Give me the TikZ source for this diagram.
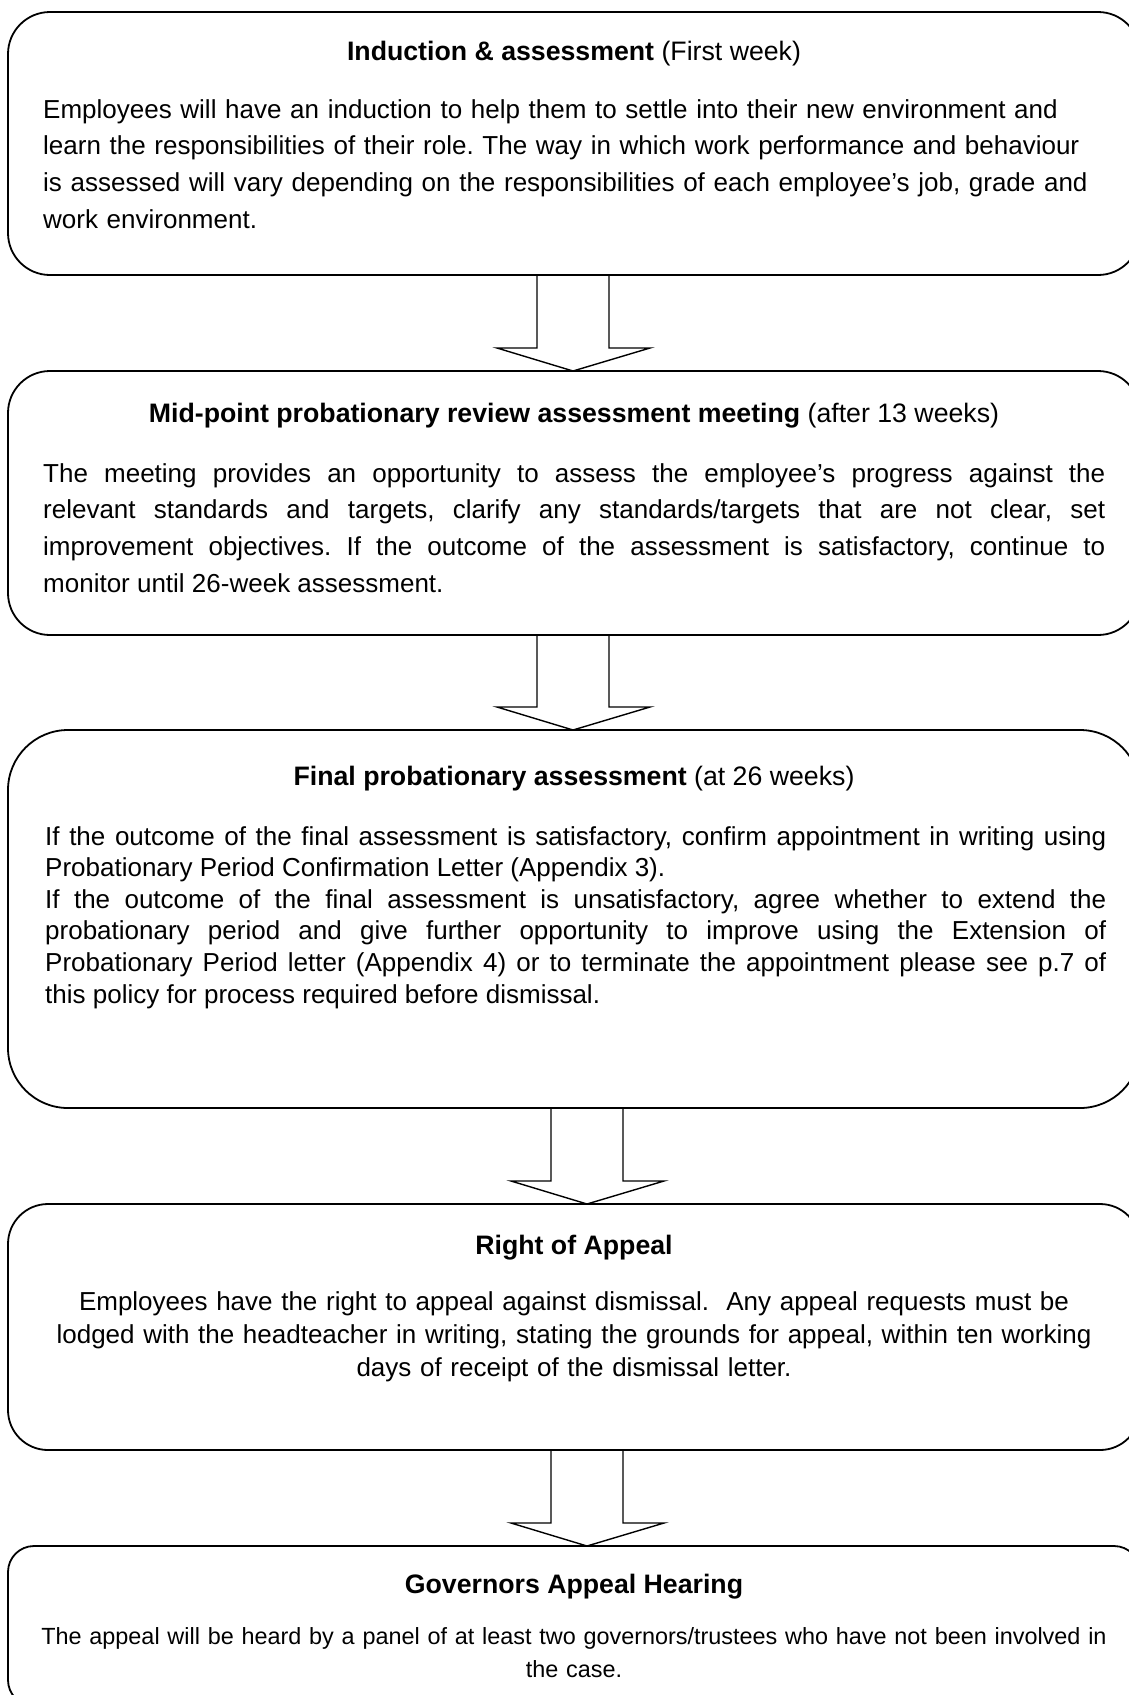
\documentclass[tikz,border=0pt]{standalone}
\usepackage{fontspec}
\setmainfont{Liberation Sans}
\usepackage{tikz}
\usetikzlibrary{positioning, calc}
\frenchspacing
\tikzstyle{stage} = [rectangle, draw=black, line width=1.8pt, minimum width=1132pt, inner sep=0pt, outer sep=0pt]
\tikzstyle{title} = [inner sep=0pt, anchor=base, font=\fontsize{26.7}{36}\selectfont]
\tikzstyle{body} = [inner sep=0pt, anchor=base west, text width=1062pt, align=left, font=\fontsize{26}{36.7}\selectfont]
\tikzstyle{hollow} = [draw=black, line width=1.4pt, line join=miter]
\newcommand{\fullline}[1]{\makebox[\hsize][s]{\spaceskip=0pt \xspaceskip=0pt #1}}

\begin{document}
\begin{tikzpicture}[x=1pt, y=-1pt]
\useasboundingbox (0,0) rectangle (1129,1695);
\clip (0,0) rectangle (1129,1695);

% stages
\node[stage, rounded corners=42pt, minimum height=263pt, anchor=north west] (b1) at (8,12) {};
\node[stage, rounded corners=42pt, minimum height=264pt, below=96pt of b1] (b2) {};
\node[stage, rounded corners=60pt, minimum height=378pt, below=95pt of b2] (b3) {};
\node[stage, rounded corners=40pt, minimum height=246pt, below=96pt of b3] (b4) {};
\node[stage, rounded corners=26pt, minimum height=160pt, below=96pt of b4] (b5) {};

% headings
\node[title] (t1) at ([yshift=-48pt]b1.north) {\textbf{Induction \& assessment} (First week)};
\node[title] (t2) at ([yshift=-51pt]b2.north) {\textbf{Mid-point probationary review assessment meeting} (after 13 weeks)};
\node[title] (t3) at ([yshift=-55pt]b3.north) {\textbf{Final probationary assessment} (at 26 weeks)};
\node[title] (t4) at ([yshift=-50pt]b4.north) {\textbf{Right of Appeal}};
\node[title] (t5) at ([yshift=-47pt]b5.north) {\textbf{Governors Appeal Hearing}};

% texts
\node[body, text width=1080pt] (d1) at ([xshift=35pt, yshift=-106pt]b1.north west) {Employees will have an induction to help them to settle into their new environment and\\
learn the responsibilities of their role. The way in which work performance and behaviour\\
is assessed will vary depending on the responsibilities of each employee’s job, grade and\\
work environment.};
\node[body, align=justify] (d2) at ([xshift=35pt, yshift=-111pt]b2.north west) {\fullline{The meeting provides an opportunity to assess the employee’s progress against the}\\
\fullline{relevant standards and targets, clarify any standards/targets that are not clear, set}\\
\fullline{improvement objectives. If the outcome of the assessment is satisfactory, continue to}\\
monitor until 26-week assessment.};
\node[body, align=justify, text width=1061pt, font=\fontsize{26}{31.6}\selectfont] (d3) at ([xshift=37pt, yshift=-115pt]b3.north west) {\fullline{If the outcome of the final assessment is satisfactory, confirm appointment in writing using}\\
Probationary Period Confirmation Letter (Appendix 3).\\
\fullline{If the outcome of the final assessment is unsatisfactory, agree whether to extend the}\\
\fullline{probationary period and give further opportunity to improve using the Extension of}\\
\fullline{Probationary Period letter (Appendix 4) or to terminate the appointment please see p.7 of}\\
this policy for process required before dismissal.};
\node[body, anchor=base, text width=1100pt, align=center, font=\fontsize{26}{33}\selectfont] (d4) at ([yshift=-106pt]b4.north) {Employees have the right to appeal against dismissal.\ \ Any appeal requests must be\\
lodged with the headteacher in writing, stating the grounds for appeal, within ten working\\
days of receipt of the dismissal letter.};
\node[body, anchor=base, text width=1100pt, align=center, font=\fontsize{23.4}{33}\selectfont] (d5) at ([yshift=-98pt]b5.north) {The appeal will be heard by a panel of at least two governors/trustees who have not been involved in\\
the case.};

% block arrows between stages
\foreach \src/\dst/\dx in {b1/b2/-1, b2/b3/-1, b3/b4/13, b4/b5/13}
  \draw[hollow] ($(\src.south)+(\dx-36,0)$) -- ($(\dst.north)+(\dx-36,-23)$) -- ($(\dst.north)+(\dx-76,-23)$)
    -- ($(\dst.north)+(\dx,0)$) -- ($(\dst.north)+(\dx+77,-23)$) -- ($(\dst.north)+(\dx+36,-23)$) -- ($(\src.south)+(\dx+36,0)$);
\end{tikzpicture}
\end{document}
